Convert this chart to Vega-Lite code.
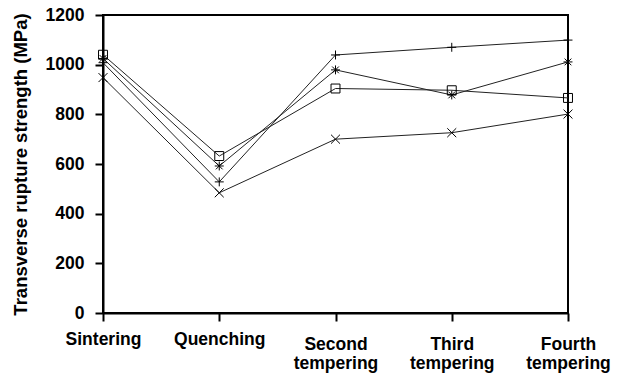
{
  "$schema": "https://vega.github.io/schema/vega-lite/v6.json",
  "width": 465,
  "height": 298,
  "autosize": "none",
  "padding": {"left": 103, "top": 15, "right": 53, "bottom": 60},
  "background": "white",
  "config": {
    "view": {"stroke": "black", "strokeWidth": 2},
    "font": "Liberation Sans"
  },
  "data": {
    "values": [
      {"stage": "Sintering", "series": "square", "value": 1040},
      {"stage": "Quenching", "series": "square", "value": 632},
      {"stage": "Second tempering", "series": "square", "value": 904},
      {"stage": "Third tempering", "series": "square", "value": 897},
      {"stage": "Fourth tempering", "series": "square", "value": 866},
      {"stage": "Sintering", "series": "asterisk", "value": 1025},
      {"stage": "Quenching", "series": "asterisk", "value": 592},
      {"stage": "Second tempering", "series": "asterisk", "value": 979},
      {"stage": "Third tempering", "series": "asterisk", "value": 878},
      {"stage": "Fourth tempering", "series": "asterisk", "value": 1011},
      {"stage": "Sintering", "series": "plus", "value": 1008},
      {"stage": "Quenching", "series": "plus", "value": 528},
      {"stage": "Second tempering", "series": "plus", "value": 1039},
      {"stage": "Third tempering", "series": "plus", "value": 1070},
      {"stage": "Fourth tempering", "series": "plus", "value": 1099},
      {"stage": "Sintering", "series": "x", "value": 948},
      {"stage": "Quenching", "series": "x", "value": 484},
      {"stage": "Second tempering", "series": "x", "value": 700},
      {"stage": "Third tempering", "series": "x", "value": 726},
      {"stage": "Fourth tempering", "series": "x", "value": 801}
    ]
  },
  "encoding": {
    "x": {
      "field": "stage",
      "type": "ordinal",
      "sort": ["Sintering", "Quenching", "Second tempering", "Third tempering", "Fourth tempering"],
      "scale": {"type": "point", "padding": 0},
      "axis": {
        "title": null,
        "labelAngle": 0,
        "labelExpr": "split(datum.label, ' ')",
        "labelFont": "Liberation Sans",
        "labelFontSize": 17.5,
        "labelFontWeight": "bold",
        "labelColor": "black",
        "labelBaseline": "top",
        "labelPadding": {"condition": {"test": "indexof(datum.label, ' ') > 0", "value": 14}, "value": 9},
        "labelLineHeight": 19,
        "tickSize": 8,
        "tickColor": "black",
        "tickWidth": 2,
        "domainColor": "black",
        "domainWidth": 2,
        "grid": false
      }
    },
    "y": {
      "field": "value",
      "type": "quantitative",
      "scale": {"domain": [0, 1200], "nice": false},
      "axis": {
        "title": "Transverse rupture strength (MPa)",
        "titleFont": "Liberation Sans",
        "titleFontSize": 18.5,
        "titleFontWeight": "bold",
        "titleColor": "black",
        "titlePadding": 15,
        "values": [0, 200, 400, 600, 800, 1000, 1200],
        "format": "d",
        "labelFont": "Liberation Sans",
        "labelFontSize": 17.5,
        "labelFontWeight": "bold",
        "labelColor": "black",
        "labelPadding": 11,
        "tickSize": 8,
        "tickColor": "black",
        "tickWidth": 2,
        "domainColor": "black",
        "domainWidth": 2,
        "grid": false
      }
    }
  },
  "layer": [
    {
      "mark": {"type": "line", "color": "#222222", "strokeWidth": 1},
      "encoding": {"detail": {"field": "series"}}
    },
    {
      "mark": {"type": "point", "filled": false, "stroke": "black", "strokeWidth": 1, "size": 80, "opacity": 1},
      "encoding": {
        "shape": {
          "field": "series",
          "scale": {
            "domain": ["square", "asterisk", "plus", "x"],
            "range": [
              "square",
              "M-1,0H1M0,-1V1M-0.75,-0.75L0.75,0.75M-0.75,0.75L0.75,-0.75",
              "M-1,0H1M0,-1V1",
              "M-1,-1L1,1M-1,1L1,-1"
            ]
          },
          "legend": null
        }
      }
    }
  ]
}
